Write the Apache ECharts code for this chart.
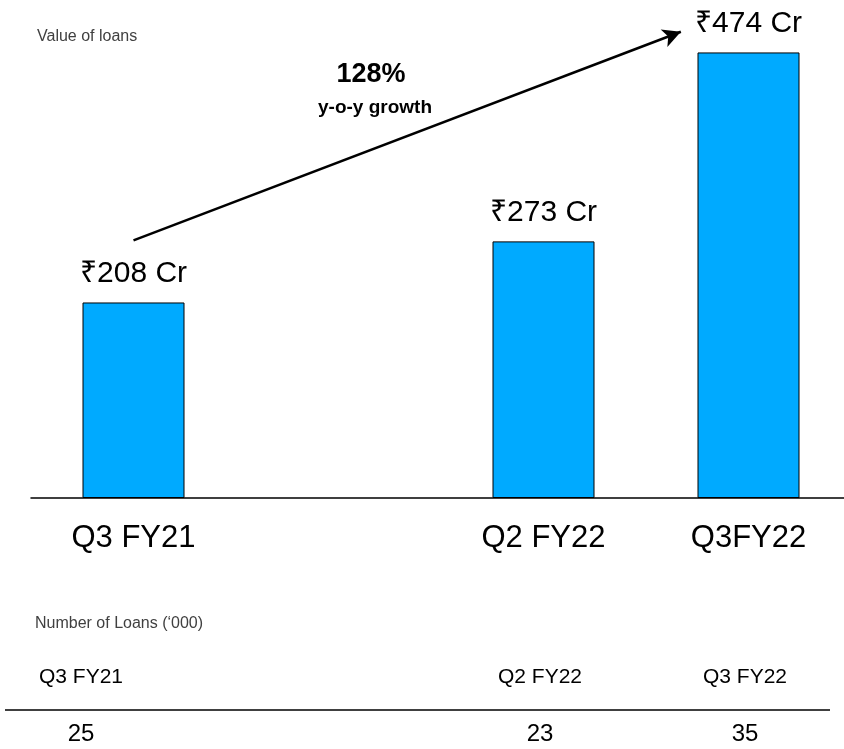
<!DOCTYPE html>
<html>
<head>
<meta charset="utf-8">
<script src="https://cdn.jsdelivr.net/npm/echarts@6/dist/echarts.min.js"></script>
<style>
  html, body { margin: 0; padding: 0; background: #fff; }
  #chart { width: 844px; height: 749px; }
</style>
</head>
<body>
<div id="chart"></div>
<script>
// Quarterly loan value (₹ Cr); the blank slot keeps the gap between FY21 and FY22
const quarters = ['Q3 FY21', '', 'Q2 FY22', 'Q3FY22'];
const loanValues = [208, null, 273, 474];

// Growth annotation
const growthPct = '128%';
const growthNote = 'y-o-y growth';

// Number of loans table ('000)
const tableQuarters = ['Q3 FY21', 'Q2 FY22', 'Q3 FY22'];
const loanCounts = [25, 23, 35];

const FONT = '"Liberation Sans", Arial, "Noto Sans", sans-serif';
const chart = echarts.init(document.getElementById('chart'), null, { renderer: 'canvas' });

// Layout: each quarter slot is 205px wide inside an 813px plot area
const GRID_LEFT = 31, GRID_WIDTH = 813, SLOT = 205;
const xMin = -0.5;
const xMax = xMin + GRID_WIDTH / SLOT;

const barData = [];
const labelIdx = [];
quarters.forEach((q, i) => {
  if (loanValues[i] != null) barData.push([i, loanValues[i]]);
  if (q) labelIdx.push(i);
});

const tableCols = [81, 540, 745];
const graphics = [
  { type: 'text', left: 37, top: 29, style: { text: 'Value of loans', fill: '#404040', font: '16px ' + FONT } },
  { type: 'text', left: 35, top: 616, style: { text: 'Number of Loans (\u2018000)', fill: '#404040', font: '16px ' + FONT } },
  { type: 'line', shape: { x1: 5, y1: 710, x2: 830, y2: 710 }, style: { stroke: '#000', lineWidth: 1.3 } },
  { type: 'text', x: 371, y: 75, style: { text: growthPct, fill: '#000', font: 'bold 27px ' + FONT, textAlign: 'center', textVerticalAlign: 'middle' } },
  { type: 'text', x: 375, y: 108, style: { text: growthNote, fill: '#000', font: 'bold 19px ' + FONT, textAlign: 'center', textVerticalAlign: 'middle' } }
];
tableQuarters.forEach((q, i) => {
  graphics.push({ type: 'text', x: tableCols[i], y: 677, style: { text: q, fill: '#000', font: '21px ' + FONT, textAlign: 'center', textVerticalAlign: 'middle' } });
  graphics.push({ type: 'text', x: tableCols[i], y: 734, style: { text: String(loanCounts[i]), fill: '#000', font: '24px ' + FONT, textAlign: 'center', textVerticalAlign: 'middle' } });
});

chart.setOption({
  animation: false,
  textStyle: { fontFamily: FONT },
  grid: { left: GRID_LEFT, width: GRID_WIDTH, top: 28, height: 470 },
  xAxis: {
    type: 'value',
    min: xMin,
    max: xMax,
    splitLine: { show: false },
    axisLine: { show: true, onZero: false, lineStyle: { color: '#000', width: 1.5 } },
    axisTick: { show: false },
    axisLabel: {
      color: '#000',
      fontSize: 31,
      margin: 25,
      customValues: labelIdx,
      formatter: v => quarters[Math.round(v)] || ''
    }
  },
  yAxis: { type: 'value', min: 0, max: 500, show: false, splitLine: { show: false } },
  series: [
    {
      type: 'bar',
      data: barData,
      barWidth: 102,
      itemStyle: { color: '#00AAFF', borderColor: '#000', borderWidth: 1 },
      label: {
        show: true,
        position: 'top',
        distance: 14,
        color: '#000',
        fontSize: 30,
        formatter: p => '\u20B9' + p.value[1] + ' Cr'
      },
      markLine: {
        silent: true,
        symbol: ['none', 'arrow'],
        symbolSize: [14, 18],
        label: { show: false },
        lineStyle: { color: '#000', width: 2.5, type: 'solid' },
        data: [[{ coord: [0, 274] }, { coord: [2.67, 496] }]]
      }
    }
  ],
  graphic: graphics
});
</script>
</body>
</html>
